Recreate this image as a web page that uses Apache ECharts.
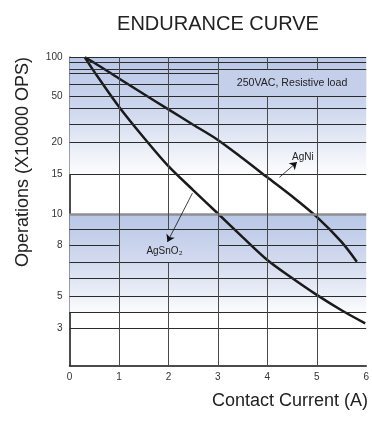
<!DOCTYPE html>
<html><head><meta charset="utf-8">
<script src="https://cdn.jsdelivr.net/npm/echarts@6/dist/echarts.min.js"></script>
<style>html,body{margin:0;padding:0;background:#fff}#c{width:372px;height:423px}</style>
</head><body><div id="c"></div>
<script>
// ---- data (operations in units of 10000 OPS vs contact current in A) ----
const agNiCurrent   = [0.31, 0.5, 1, 1.5, 2, 2.5, 3, 3.5, 4, 4.5, 5, 5.5, 5.81];
const agNiOps       = [100, 90, 65, 52, 39.5, 30, 21.3, 17.4, 14.6, 12.0, 9.8, 8.2, 7.05];
const agSnO2Current = [0.31, 0.5, 1, 1.5, 2, 2.5, 3, 3.5, 4, 4.5, 5, 5.5, 5.98];
const agSnO2Ops     = [100, 74, 41.5, 22.5, 16.2, 12.8, 10.05, 8.5, 7.15, 6.04, 5.06, 4.1, 3.29];
const yTickLabels   = [3, 5, 8, 10, 15, 20, 50, 100];
const xTickLabels   = [0, 1, 2, 3, 4, 5, 6];

// ---- the chart's own (non-standard) operations scale: value -> fraction of axis ----
const yScaleValues = [2, 3, 4, 5, 6, 7, 8, 9, 10, 15, 20, 30, 40, 50, 60, 70, 80, 90, 100];
const yScaleFrac   = [0, 0.1188, 0.1731, 0.2250, 0.2812, 0.3331, 0.3896, 0.4416, 0.4912,
                      0.6188, 0.7227, 0.7812, 0.8331, 0.8721, 0.9133, 0.9481, 0.9610, 0.9825, 1];
function toAxis(v) {
  const V = yScaleValues, F = yScaleFrac;
  if (v <= V[0]) return F[0];
  for (let i = 0; i < V.length - 1; i++) {
    if (v <= V[i + 1]) {
      const t = Math.log(v / V[i]) / Math.log(V[i + 1] / V[i]);
      return F[i] + t * (F[i + 1] - F[i]);
    }
  }
  return F[F.length - 1];
}
function fromAxis(a) {
  let best = yTickLabels[0], d = 1e9;
  yTickLabels.forEach(v => { const dd = Math.abs(toAxis(v) - a); if (dd < d) { d = dd; best = v; } });
  return String(best);
}

const FONT = 'Liberation Sans, Arial, Helvetica, sans-serif';
const LINE = '#2b2b2b';

// grid lines (horizontal at each scale value, vertical at each whole ampere)
const gridSegs = [];
yScaleValues.slice(1).forEach(v => {
  let ranges = [[0, 6]];
  if (v === 60 || v === 70) ranges = [[0, 3]];
  if (v === 8) ranges = [[0, 1], [3, 6]];
  const st = v === 10 ? { color: '#8f8f8f', width: 2.5, type: 'solid' } : { color: LINE, width: 1, type: 'solid' };
  ranges.forEach(r => gridSegs.push([{ coord: [r[0], toAxis(v)], lineStyle: st }, { coord: [r[1], toAxis(v)] }]));
});
xTickLabels.slice(1, -1).forEach(x => {
  let ranges = [[2, 100]];
  if (x === 4 || x === 5) ranges = [[2, 50], [80, 100]];
  if (x === 2) ranges = [[2, 7], [9, 100]];
  ranges.forEach(r => gridSegs.push([{ coord: [x, toAxis(r[0])], lineStyle: { color: '#4a4a4a', width: 1, type: 'solid' } }, { coord: [x, toAxis(r[1])] }]));
});

function grad(stops) {
  return { type: 'linear', x: 0, y: 0, x2: 0, y2: 1, colorStops: stops.map(s => ({ offset: s[0], color: s[1] })) };
}

const chart = echarts.init(document.getElementById('c'), null, { renderer: 'canvas' });
chart.setOption({
  animation: false,
  backgroundColor: '#ffffff',
  title: {
    text: 'ENDURANCE CURVE', left: 213, top: 9, textAlign: 'center',
    textStyle: { fontSize: 20, fontWeight: 'normal', color: '#222', fontFamily: FONT }
  },
  grid: { left: 69.5, right: 4.5, top: 57.3, bottom: 57.7, containLabel: false },
  xAxis: {
    type: 'value', min: 0, max: 6, interval: 1,
    axisLine: { show: true, lineStyle: { color: '#111', width: 1.5 } },
    axisTick: { show: false }, splitLine: { show: false },
    axisLabel: { color: '#333', fontSize: 10, fontFamily: FONT, margin: 7 }
  },
  yAxis: {
    type: 'value', min: 0, max: 1,
    axisLine: { show: true, lineStyle: { color: '#111', width: 1.5 } },
    axisTick: { show: false }, splitLine: { show: false },
    axisLabel: {
      color: '#333', fontSize: 10, fontFamily: FONT, margin: 7,
      customValues: yTickLabels.map(toAxis), formatter: v => fromAxis(v)
    }
  },
  graphic: [
    { type: 'text', x: 23, y: 162, rotation: Math.PI / 2,
      style: { text: 'Operations (X10000 OPS)', font: '18px ' + FONT, fill: '#222', align: 'center', verticalAlign: 'middle' } },
    { type: 'text', x: 368, y: 401,
      style: { text: 'Contact Current (A)', font: '18px ' + FONT, fill: '#222', align: 'right', verticalAlign: 'middle' } }
  ],
  series: [
    {
      type: 'line', data: [], silent: true, z: 1,
      markArea: {
        silent: true,
        data: [
          [{ coord: [0, toAxis(100)], itemStyle: { color: grad([[0, '#b9c7e7'], [0.4, '#cbd5ed'], [0.72, '#e5eaf5'], [1, '#fdfdfe']]) } },
           { coord: [6, toAxis(15)] }],
          [{ coord: [0, toAxis(10)], itemStyle: { color: grad([[0, '#b8c6e6'], [0.5, '#d3dbef'], [0.85, '#eef1f8'], [1, '#fbfcfd']]) } },
           { coord: [6, toAxis(4)] }],
          [{ coord: [3, toAxis(80)], itemStyle: { color: '#c4d0ea' },
             label: { show: true, position: 'inside', formatter: '250VAC, Resistive load', color: '#222', fontSize: 10.6, fontFamily: FONT } },
           { coord: [6, toAxis(50)] }]
        ]
      },
      markLine: { silent: true, symbol: ['none', 'none'], label: { show: false }, data: gridSegs }
    },
    {
      name: 'AgNi', type: 'line', z: 3, smooth: 0.3, showSymbol: false, symbol: 'none',
      lineStyle: { color: '#1a1a1a', width: 2.5 },
      data: agNiCurrent.map((x, i) => [x, toAxis(agNiOps[i])]),
      markLine: {
        silent: true, symbol: ['none', 'arrow'], symbolSize: 7, label: { show: false },
        lineStyle: { color: '#111', width: 0.8, type: 'solid' },
        data: [[{ coord: [4.245, toAxis(14.6)] }, { coord: [4.6, toAxis(16.8)] }]]
      },
      markPoint: {
        silent: true, symbol: 'circle', symbolSize: 0,
        label: { show: true, position: 'inside', color: '#222', fontSize: 10, fontFamily: FONT, formatter: 'AgNi' },
        data: [{ coord: [4.72, toAxis(17.6)] }]
      }
    },
    {
      name: 'AgSnO2', type: 'line', z: 3, smooth: 0.3, showSymbol: false, symbol: 'none',
      lineStyle: { color: '#1a1a1a', width: 2.5 },
      data: agSnO2Current.map((x, i) => [x, toAxis(agSnO2Ops[i])]),
      markLine: {
        silent: true, symbol: ['none', 'arrow'], symbolSize: 7, label: { show: false },
        lineStyle: { color: '#111', width: 0.8, type: 'solid' },
        data: [[{ coord: [2.485, toAxis(12.4)] }, { coord: [1.98, toAxis(8.2)] }]]
      },
      markPoint: {
        silent: true, symbol: 'circle', symbolSize: 0,
        label: { show: true, position: 'inside', color: '#222', fontSize: 10, fontFamily: FONT, formatter: 'AgSnO₂' },
        data: [{ coord: [1.92, toAxis(7.64)] }]
      }
    }
  ]
});
</script>
</body></html>
